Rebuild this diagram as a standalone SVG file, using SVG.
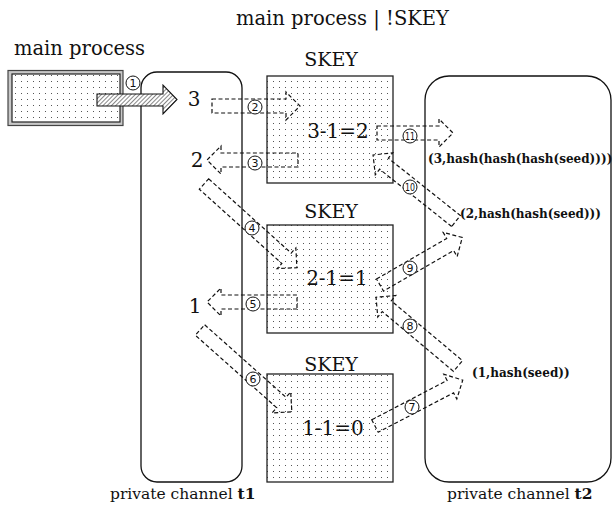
<svg xmlns="http://www.w3.org/2000/svg" width="612" height="512" viewBox="0 0 612 512">
  <defs>
    <pattern id="dots" width="6" height="6" patternUnits="userSpaceOnUse">
      <rect width="6" height="6" fill="#ffffff"/>
      <rect x="3" y="3" width="1" height="1" fill="#555"/>
    </pattern>
    <pattern id="hatch" width="3" height="3" patternUnits="userSpaceOnUse" patternTransform="rotate(45)">
      <rect width="3" height="3" fill="#ffffff"/>
      <line x1="0" y1="0" x2="0" y2="3" stroke="#222" stroke-width="1.1"/>
    </pattern>
  </defs>
  <style>
    .serif { font-family: "DejaVu Serif", "Liberation Serif", serif; fill: #111; }
    .title { font-size: 19.5px; }
    .skey { font-size: 19px; text-anchor: middle; }
    .calc { font-size: 20px; text-anchor: middle; }
    .num { font-size: 20px; text-anchor: middle; }
    .pair { font-size: 12px; font-weight: bold; }
    .chan { font-size: 15.5px; }
    .chan tspan.b { font-weight: bold; }
    .container { fill: none; stroke: #111; stroke-width: 1.3; }
    .box { fill: url(#dots); stroke: #222; stroke-width: 1.3; }
    .flow { fill: none; stroke: #111; stroke-width: 1.2; stroke-dasharray: 4 2.5; }
    .step circle { fill: #fff; stroke: #111; stroke-width: 1; }
    .step text { font-family: "DejaVu Sans", "Liberation Sans", sans-serif; font-size: 11px; text-anchor: middle; fill: #111; }
  </style>

  <!-- headings -->
  <text class="serif title" x="236" y="25">main process | !SKEY</text>
  <text class="serif title" x="14" y="55">main process</text>

  <!-- main process -->
  <g id="main-process">
    <rect x="8" y="70.5" width="115" height="55" fill="#c8c8c8" stroke="#444" stroke-width="1.2"/>
    <rect x="12" y="74" width="108" height="48" fill="url(#dots)" stroke="#222" stroke-width="1.2"/>
  </g>

  <!-- private channel t1 -->
  <g id="channel-t1">
    <rect class="container" x="141" y="72" width="101" height="410" rx="16"/>
    <text class="serif num" x="194" y="106">3</text>
    <text class="serif num" x="197" y="167">2</text>
    <text class="serif num" x="195" y="313">1</text>
    <text class="serif chan" x="110" y="499">private channel <tspan class="b">t1</tspan></text>
  </g>

  <!-- private channel t2 -->
  <g id="channel-t2">
    <rect class="container" x="425" y="76" width="186" height="406" rx="24"/>
    <text class="serif pair" x="428" y="163">(3,hash(hash(hash(seed))))</text>
    <text class="serif pair" x="460" y="218">(2,hash(hash(seed)))</text>
    <text class="serif pair" x="472" y="377">(1,hash(seed))</text>
    <text class="serif chan" x="447" y="499">private channel <tspan class="b">t2</tspan></text>
  </g>

  <!-- SKEY instances -->
  <g id="skey-1">
    <text class="serif skey" x="331" y="66">SKEY</text>
    <rect class="box" x="267" y="76" width="126" height="107"/>
    <text class="serif calc" x="338" y="138">3-1=2</text>
  </g>
  <g id="skey-2">
    <text class="serif skey" x="331" y="218">SKEY</text>
    <rect class="box" x="267" y="225" width="126" height="108"/>
    <text class="serif calc" x="337" y="285">2-1=1</text>
  </g>
  <g id="skey-3">
    <text class="serif skey" x="331" y="371">SKEY</text>
    <rect class="box" x="267" y="374" width="126" height="108"/>
    <text class="serif calc" x="333" y="435">1-1=0</text>
  </g>

  <!-- message flows -->
  <g id="connectors">
    <path d="M97,94 H163 V85 L177,99.5 L163,114 V106 H97 Z" fill="url(#hatch)" stroke="#111" stroke-width="1.1"/>
    <path class="flow" transform="translate(212,106)" d="M0,-7 H74 V-14 L88,0 L74,14 V7 H0 Z"/>
    <path class="flow" transform="translate(298,160) rotate(180)" d="M0,-7 H77 V-14 L91,0 L77,14 V7 H0 Z"/>
    <path class="flow" transform="translate(204,184) rotate(42)" d="M0,-7 H111 V-14 L125,0 L111,14 V7 H0 Z"/>
    <path class="flow" transform="translate(297,302) rotate(180)" d="M0,-7 H76 V-14 L90,0 L76,14 V7 H0 Z"/>
    <path class="flow" transform="translate(200,330) rotate(41.7)" d="M0,-7 H109 V-14 L123,0 L109,14 V7 H0 Z"/>
    <path class="flow" transform="translate(375,426) rotate(-27.6)" d="M0,-7 H85 V-14 L99,0 L85,14 V7 H0 Z"/>
    <path class="flow" transform="translate(458,366) rotate(220)" d="M0,-7 H93 V-14 L107,0 L93,14 V7 H0 Z"/>
    <path class="flow" transform="translate(380,285) rotate(-30)" d="M0,-7 H81 V-14 L95,0 L81,14 V7 H0 Z"/>
    <path class="flow" transform="translate(456,221) rotate(218.5)" d="M0,-7 H92 V-14 L106,0 L92,14 V7 H0 Z"/>
    <path class="flow" transform="translate(377,133)" d="M0,-7 H62 V-14 L76,0 L62,14 V7 H0 Z"/>
  </g>

  <!-- step numbers -->
  <g id="steps">
    <g class="step"><circle cx="133" cy="83" r="7"/><text x="133" y="87">1</text></g>
    <g class="step"><circle cx="255" cy="107" r="7"/><text x="255" y="111">2</text></g>
    <g class="step"><circle cx="255" cy="163" r="7"/><text x="255" y="167">3</text></g>
    <g class="step"><circle cx="252" cy="228" r="7"/><text x="252" y="232">4</text></g>
    <g class="step"><circle cx="253" cy="304" r="7"/><text x="253" y="308">5</text></g>
    <g class="step"><circle cx="253" cy="379" r="7"/><text x="253" y="383">6</text></g>
    <g class="step"><circle cx="412" cy="407" r="7"/><text x="412" y="411">7</text></g>
    <g class="step"><circle cx="410" cy="326" r="7"/><text x="410" y="330">8</text></g>
    <g class="step"><circle cx="410" cy="268" r="7"/><text x="410" y="272">9</text></g>
    <g class="step"><circle cx="410" cy="187" r="7"/><text x="410" y="191" textLength="10" lengthAdjust="spacingAndGlyphs">10</text></g>
    <g class="step"><circle cx="410" cy="136" r="7"/><text x="410" y="140" textLength="10" lengthAdjust="spacingAndGlyphs">11</text></g>
  </g>
</svg>
